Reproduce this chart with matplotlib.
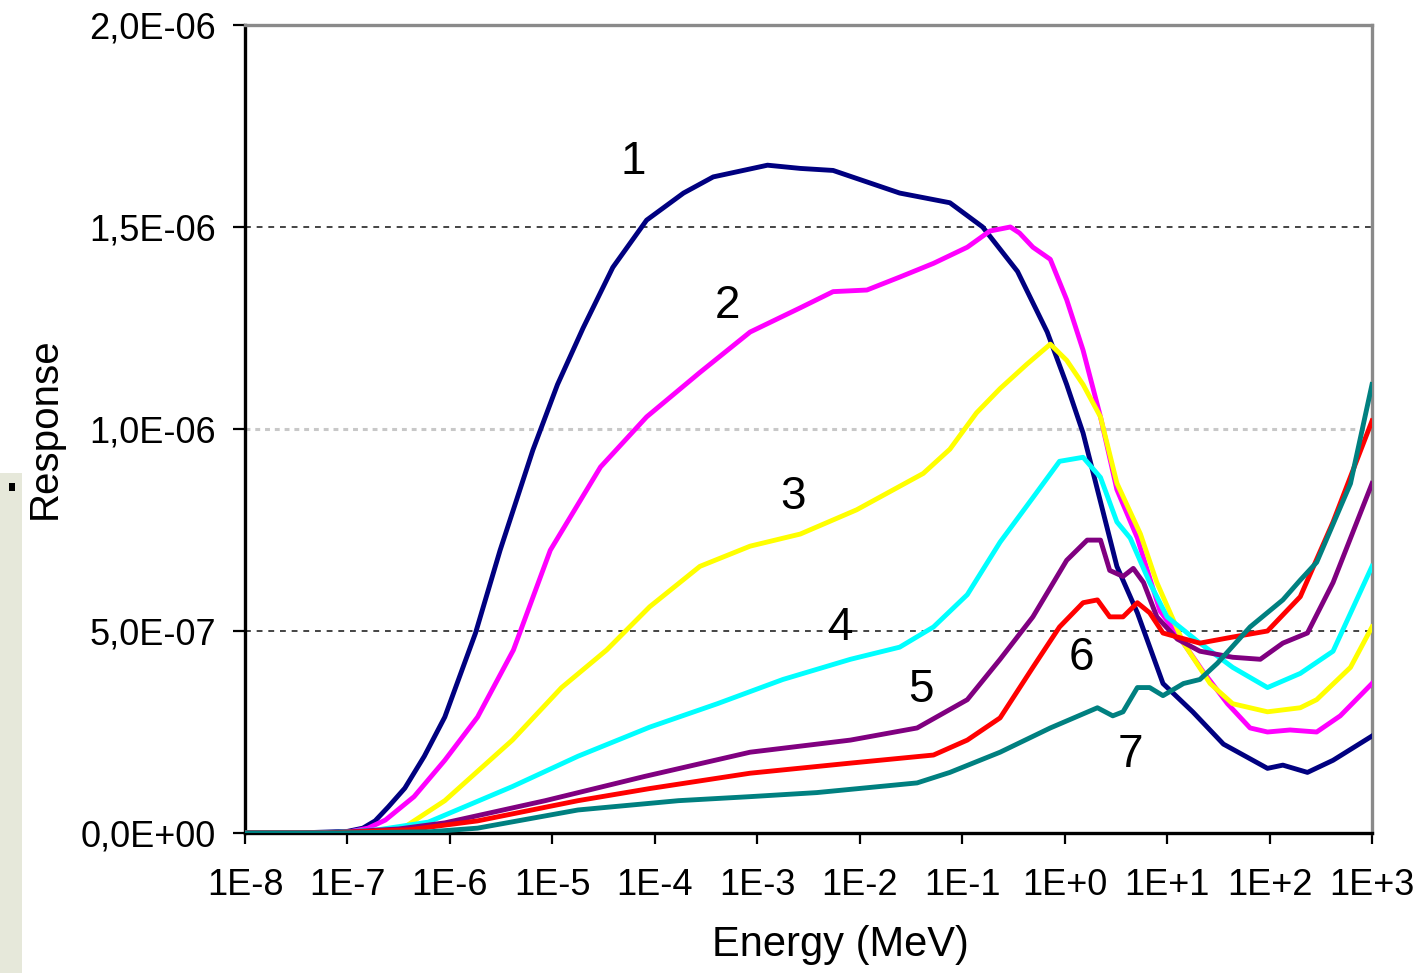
import numpy as np
import matplotlib
matplotlib.use("Agg")
import matplotlib.pyplot as plt
from matplotlib.ticker import FixedLocator, FuncFormatter, NullLocator
from matplotlib.patches import Rectangle

plt.rcParams["font.family"] = ["Liberation Sans", "DejaVu Sans"]

# -----------------------------
# Data (log10 of energy in MeV, response in units of 1E-06)
# -----------------------------
log_e_1 = [-8, -7.5, -7.0, -6.85, -6.73, -6.6, -6.44, -6.25, -6.05, -5.75, -5.51, -5.19,
           -4.95, -4.70, -4.41, -4.08, -3.72, -3.43, -2.90, -2.58, -2.26, -1.61,
           -1.12, -0.80, -0.46, -0.17, 0.02, 0.18, 0.28, 0.51, 0.71, 0.96, 1.25,
           1.55, 1.98, 2.13, 2.37, 2.62, 3.0]
resp_1 = [0, 0, 0.004, 0.012, 0.03, 0.065, 0.111, 0.19, 0.287, 0.495, 0.70, 0.948,
          1.11, 1.25, 1.40, 1.517, 1.584, 1.624, 1.653, 1.645, 1.64, 1.584,
          1.56, 1.50, 1.39, 1.24, 1.11, 0.99, 0.89, 0.66, 0.545, 0.37, 0.30,
          0.22, 0.16, 0.168, 0.15, 0.18, 0.24]

log_e_2 = [-8, -7.3, -7.0, -6.8, -6.63, -6.35, -6.05, -5.73, -5.38, -5.02, -4.53,
           -4.08, -3.56, -3.07, -2.58, -2.26, -1.93, -1.61, -1.28, -0.95, -0.73,
           -0.53, -0.44, -0.31, -0.14, 0.02, 0.18, 0.35, 0.51, 0.71, 0.93, 1.16,
           1.35, 1.59, 1.81, 1.98, 2.20, 2.46, 2.69, 3.0]
resp_2 = [0, 0, 0.002, 0.012, 0.032, 0.09, 0.18, 0.287, 0.453, 0.70, 0.906,
          1.03, 1.14, 1.24, 1.30, 1.34, 1.344, 1.376, 1.41, 1.45, 1.49,
          1.50, 1.485, 1.45, 1.42, 1.32, 1.195, 1.03, 0.85, 0.73, 0.55, 0.47,
          0.40, 0.32, 0.26, 0.25, 0.255, 0.25, 0.29, 0.37]

log_e_3 = [-8, -7.2, -6.8, -6.44, -6.05, -5.39, -4.91, -4.47, -4.05, -3.56, -3.07,
           -2.58, -2.03, -1.38, -1.12, -0.86, -0.63, -0.37, -0.14, 0.02, 0.18,
           0.35, 0.51, 0.74, 0.90, 1.16, 1.42, 1.64, 1.98, 2.30, 2.46, 2.79, 3.0]
resp_3 = [0, 0, 0.005, 0.015, 0.08, 0.23, 0.36, 0.453, 0.56, 0.66, 0.71,
          0.74, 0.80, 0.89, 0.95, 1.04, 1.10, 1.16, 1.21, 1.17, 1.11,
          1.03, 0.866, 0.74, 0.62, 0.47, 0.37, 0.32, 0.30, 0.31, 0.33, 0.41, 0.51]

log_e_4 = [-8, -7.2, -6.7, -6.21, -5.39, -4.75, -4.05, -3.39, -2.75, -2.09, -1.61,
           -1.28, -0.95, -0.63, -0.31, -0.05, 0.18, 0.35, 0.51, 0.64, 0.83,
           1.00, 1.32, 1.64, 1.98, 2.30, 2.62, 3.0]
resp_4 = [0, 0, 0.008, 0.027, 0.115, 0.19, 0.262, 0.32, 0.38, 0.43, 0.46,
          0.51, 0.59, 0.72, 0.83, 0.92, 0.93, 0.88, 0.77, 0.73, 0.62,
          0.535, 0.47, 0.41, 0.36, 0.395, 0.45, 0.66]

log_e_5 = [-8, -7.2, -6.5, -6.05, -5.07, -4.10, -3.07, -2.09, -1.44, -0.95, -0.63,
           -0.31, 0.02, 0.22, 0.35, 0.44, 0.57, 0.67, 0.77, 0.90, 1.10, 1.32,
           1.64, 1.91, 2.13, 2.37, 2.62, 3.0]
resp_5 = [0, 0, 0.01, 0.025, 0.08, 0.14, 0.20, 0.23, 0.26, 0.33, 0.43,
          0.535, 0.675, 0.725, 0.725, 0.65, 0.635, 0.655, 0.62, 0.535, 0.48, 0.45,
          0.435, 0.43, 0.47, 0.495, 0.62, 0.865]

log_e_6 = [-8, -7.2, -6.4, -5.73, -4.75, -4.05, -3.07, -2.09, -1.28, -0.95, -0.63,
           -0.31, -0.05, 0.18, 0.32, 0.44, 0.57, 0.71, 0.83, 0.96, 1.10, 1.32,
           1.64, 1.98, 2.30, 2.62, 3.0]
resp_6 = [0, 0, 0.008, 0.03, 0.08, 0.11, 0.148, 0.173, 0.193, 0.23, 0.285,
          0.41, 0.51, 0.57, 0.577, 0.535, 0.535, 0.57, 0.545, 0.495, 0.485, 0.47,
          0.485, 0.50, 0.585, 0.77, 1.02]

log_e_7 = [-8, -7.2, -6.2, -5.73, -4.75, -3.77, -3.07, -2.42, -1.44, -1.12, -0.63,
           -0.14, 0.32, 0.47, 0.57, 0.71, 0.83, 0.96, 1.16, 1.32, 1.49, 1.81,
           2.13, 2.30, 2.46, 2.79, 3.0]
resp_7 = [0, 0, 0.003, 0.012, 0.057, 0.08, 0.09, 0.10, 0.124, 0.15, 0.20,
          0.26, 0.31, 0.29, 0.30, 0.36, 0.36, 0.34, 0.37, 0.38, 0.42, 0.51,
          0.577, 0.626, 0.67, 0.865, 1.11]

colors = ["#000080", "#ff00ff", "#ffff00", "#00ffff", "#800080", "#ff0000", "#008080"]

# curve number labels
label_text = ["1", "2", "3", "4", "5", "6", "7"]
label_log_e = [-4.21, -3.29, -2.65, -2.19, -1.40, 0.16, 0.64]
label_resp = [1.66, 1.305, 0.832, 0.507, 0.354, 0.433, 0.193]

y_ticks = [0, 0.5e-6, 1.0e-6, 1.5e-6, 2.0e-6]
x_decades = list(range(-8, 4))

series = [(log_e_1, resp_1), (log_e_2, resp_2), (log_e_3, resp_3), (log_e_4, resp_4),
          (log_e_5, resp_5), (log_e_6, resp_6), (log_e_7, resp_7)]

# -----------------------------
# Figure
# -----------------------------
fig = plt.figure(figsize=(14.21, 9.73), dpi=100)
ax = fig.add_axes([245 / 1421, 140 / 973, 1127 / 1421, 808 / 973])

# background texture strip on the left edge
fig.patches.append(Rectangle((0, 0), 22 / 1421, 500 / 973, transform=fig.transFigure,
                             facecolor="#e6e8da", edgecolor="none", zorder=0))
fig.patches.append(Rectangle((9 / 1421, 482 / 973), 6 / 1421, 8 / 973, transform=fig.transFigure,
                             facecolor="black", edgecolor="none", zorder=1))

# gridlines
for yv in [0.5e-6, 1.5e-6]:
    ax.axhline(yv, color="#444444", lw=1.4, ls=(0, (3, 3)), zorder=1)
ax.axhline(1.0e-6, color="#c8c8c8", lw=2.2, ls=(0, (1.6, 1.6)), zorder=1)

for (le, rv), col in zip(series, colors):
    ax.plot(10.0 ** np.array(le), np.array(rv) * 1e-6, color=col, lw=3.5,
            solid_joinstyle="round", zorder=3)

for t, lx, ly in zip(label_text, label_log_e, label_resp):
    ax.text(10.0 ** lx, ly * 1e-6, t, fontsize=33, ha="center", va="center", zorder=4)

ax.set_xscale("log")
ax.set_xlim(1e-8, 1e3)
ax.set_ylim(0, 2e-6)

ax.xaxis.set_major_locator(FixedLocator([10.0 ** d for d in x_decades]))
ax.xaxis.set_minor_locator(NullLocator())
ax.xaxis.set_major_formatter(FuncFormatter(lambda v, p: "1E%+d" % round(np.log10(v))))
ax.yaxis.set_major_locator(FixedLocator(y_ticks))
ax.yaxis.set_major_formatter(FuncFormatter(lambda v, p: ("%.1E" % v).replace(".", ",")))

ax.tick_params(axis="y", direction="out", length=9, width=1.6, labelsize=26, pad=12)
ax.tick_params(axis="x", direction="out", length=8, width=1.6, labelsize=26, pad=17)

for side in ["left", "bottom"]:
    ax.spines[side].set_color("black")
    ax.spines[side].set_linewidth(2.4)
for side in ["top", "right"]:
    ax.spines[side].set_color("#8a8a8a")
    ax.spines[side].set_linewidth(2.4)

fig.text(840 / 1421, 1 - 945 / 973, "Energy (MeV)", fontsize=30, ha="center", va="center")
fig.text(45 / 1421, 1 - 428 / 973, "Response", fontsize=29, rotation=90, ha="center", va="center")

fig.savefig("out.png", dpi=100)
